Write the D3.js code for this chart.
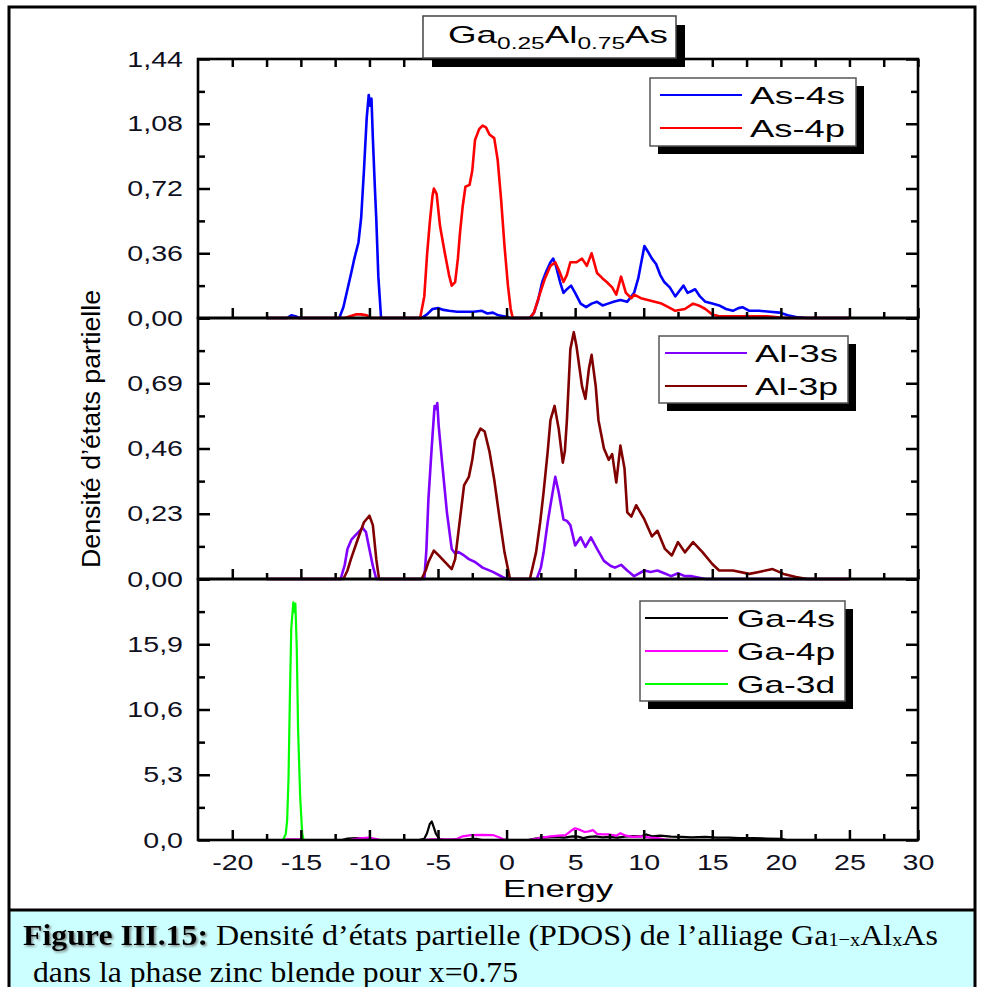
<!DOCTYPE html>
<html>
<head>
<meta charset="utf-8">
<script src="https://cdn.jsdelivr.net/npm/d3@7"></script>
<style>
  body { margin: 0; background: #fff; }
  svg { display: block; }
</style>
</head>
<body>
<svg id="chart" width="982" height="987"></svg>
<script>
// ---- Energy axis ----
const energyMajor = [-20, -15, -10, -5, 0, 5, 10, 15, 20, 25, 30];
const energyMinor = [-17.5, -12.5, -7.5, -2.5, 2.5, 7.5, 12.5, 17.5, 22.5, 27.5];
const energyLabels = ["-20", "-15", "-10", "-5", "0", "5", "10", "15", "20", "25", "30"];

// ---- Density axes (one per panel) ----
const asTicks = [0, 0.36, 0.72, 1.08, 1.44];
const asLabels = ["0,00", "0,36", "0,72", "1,08", "1,44"];
const alTicks = [0, 0.23, 0.46, 0.69, 0.92];
const alLabels = ["0,00", "0,23", "0,46", "0,69", ""];
const gaTicks = [0, 5.3, 10.6, 15.9, 21.2];
const gaLabels = ["0,0", "5,3", "10,6", "15,9", ""];

// ---- PDOS series: [energy (eV), density] ----
const as4s = [[-17.5,0],[-16.0,0],[-15.7,0.015],[-15.4,0.01],[-15.1,0],[-12.2,0],[-11.9,0.06],[-11.6,0.16],[-11.3,0.26],[-11.1,0.33],[-10.8,0.42],[-10.6,0.56],[-10.4,0.82],[-10.2,1.11],[-10.05,1.24],[-9.95,1.18],[-9.85,1.22],[-9.75,1.0],[-9.6,0.72],[-9.5,0.55],[-9.35,0.23],[-9.15,0],[-6.2,0],[-5.8,0.02],[-5.4,0.05],[-5.0,0.055],[-4.6,0.045],[-4.2,0.04],[-3.6,0.035],[-3.0,0.035],[-2.4,0.035],[-1.8,0.04],[-1.4,0.025],[-1.0,0.03],[-0.6,0.015],[-0.2,0.01],[0.3,0],[1.7,0],[2.0,0.03],[2.3,0.1],[2.6,0.2],[2.9,0.26],[3.2,0.31],[3.4,0.33],[3.6,0.29],[3.9,0.2],[4.15,0.14],[4.4,0.16],[4.7,0.18],[5.0,0.14],[5.4,0.08],[5.8,0.06],[6.2,0.08],[6.6,0.09],[7.0,0.07],[7.4,0.08],[7.8,0.09],[8.3,0.1],[8.8,0.09],[9.3,0.14],[9.6,0.22],[9.8,0.3],[10.05,0.40],[10.3,0.37],[10.6,0.33],[10.9,0.3],[11.2,0.24],[11.5,0.2],[11.9,0.17],[12.3,0.12],[12.6,0.15],[12.9,0.18],[13.2,0.14],[13.5,0.15],[13.75,0.16],[14.1,0.12],[14.5,0.09],[15.0,0.08],[15.5,0.07],[16.0,0.05],[16.5,0.04],[16.9,0.055],[17.2,0.06],[17.7,0.04],[18.4,0.04],[19.2,0.035],[19.9,0.03],[20.5,0.015],[21.1,0.005],[21.9,0],[25,0]];
const as4p = [[-17.5,0],[-11.8,0],[-11.4,0.01],[-11.0,0.02],[-10.6,0.02],[-10.2,0.015],[-9.9,0],[-6.3,0],[-6.0,0.12],[-5.8,0.35],[-5.6,0.53],[-5.4,0.68],[-5.3,0.72],[-5.1,0.69],[-4.85,0.51],[-4.5,0.36],[-4.2,0.24],[-4.0,0.18],[-3.75,0.2],[-3.55,0.33],[-3.4,0.47],[-3.2,0.62],[-3.0,0.73],[-2.7,0.74],[-2.5,0.82],[-2.3,0.99],[-2.0,1.05],[-1.75,1.07],[-1.5,1.06],[-1.25,1.02],[-0.9,1.0],[-0.65,0.88],[-0.4,0.66],[-0.15,0.4],[0.1,0.18],[0.3,0.05],[0.45,0],[1.7,0],[2.0,0.03],[2.45,0.14],[2.8,0.22],[3.2,0.29],[3.55,0.31],[3.85,0.26],[4.15,0.2],[4.4,0.24],[4.65,0.31],[5.1,0.31],[5.5,0.33],[5.85,0.29],[6.2,0.36],[6.6,0.25],[7.0,0.22],[7.3,0.2],[7.7,0.17],[8.0,0.13],[8.35,0.23],[8.7,0.14],[9.1,0.11],[9.3,0.13],[9.8,0.11],[10.3,0.1],[10.8,0.09],[11.3,0.08],[11.8,0.06],[12.3,0.04],[13.0,0.05],[13.6,0.08],[14.0,0.07],[14.5,0.05],[15.0,0.02],[15.5,0.01],[17,0.01],[19,0.01],[20.4,0],[25,0]];
const al3s = [[-17.5,0],[-12.1,0],[-11.8,0.05],[-11.6,0.106],[-11.3,0.14],[-11.1,0.15],[-10.8,0.165],[-10.5,0.18],[-10.25,0.165],[-10.0,0.105],[-9.75,0.046],[-9.5,0],[-6.0,0],[-5.85,0.1],[-5.7,0.28],[-5.45,0.47],[-5.25,0.61],[-5.15,0.6],[-5.05,0.62],[-4.95,0.54],[-4.7,0.41],[-4.35,0.235],[-4.0,0.106],[-3.75,0.09],[-3.5,0.095],[-3.1,0.083],[-2.75,0.07],[-2.3,0.06],[-1.75,0.04],[-1.0,0.025],[-0.3,0.007],[0,0],[2.2,0],[2.5,0.04],[2.7,0.094],[3.0,0.2],[3.2,0.26],[3.55,0.36],[3.8,0.306],[4.15,0.21],[4.4,0.205],[4.65,0.19],[5.0,0.118],[5.4,0.147],[5.75,0.113],[6.15,0.147],[6.6,0.106],[7.1,0.064],[7.6,0.046],[7.9,0.04],[8.35,0.05],[8.8,0.03],[9.3,0.01],[10.05,0.03],[10.5,0.025],[11.0,0.03],[11.5,0.02],[12.0,0.01],[12.5,0.02],[13.0,0.01],[13.5,0.01],[14.5,0],[25,0]];
const al3p = [[-17.5,0],[-11.9,0],[-11.6,0.03],[-11.35,0.07],[-10.85,0.14],[-10.4,0.2],[-10.0,0.223],[-9.75,0.19],[-9.5,0.07],[-9.3,0],[-6.2,0],[-5.9,0.03],[-5.7,0.06],[-5.3,0.1],[-4.95,0.083],[-4.5,0.06],[-4.0,0.035],[-3.75,0.07],[-3.55,0.15],[-3.4,0.21],[-3.1,0.33],[-2.75,0.36],[-2.5,0.42],[-2.3,0.49],[-1.9,0.53],[-1.6,0.52],[-1.25,0.45],[-0.9,0.35],[-0.5,0.21],[-0.15,0.094],[0.25,0],[1.7,0],[2.15,0.094],[2.45,0.2],[2.7,0.306],[3.0,0.45],[3.2,0.56],[3.5,0.61],[3.8,0.53],[4.1,0.41],[4.25,0.45],[4.4,0.56],[4.65,0.81],[4.9,0.87],[5.1,0.82],[5.5,0.68],[5.75,0.635],[6.0,0.74],[6.2,0.79],[6.5,0.68],[6.7,0.56],[7.1,0.46],[7.45,0.42],[7.7,0.44],[8.0,0.34],[8.3,0.47],[8.6,0.39],[8.8,0.235],[9.1,0.22],[9.45,0.26],[10.05,0.21],[10.6,0.15],[11.0,0.17],[11.55,0.106],[12.05,0.083],[12.5,0.13],[13.0,0.094],[13.6,0.13],[14.3,0.094],[15.0,0.053],[15.5,0.03],[16.5,0.03],[17.7,0.018],[18.4,0.025],[19.4,0.035],[20.2,0.018],[21.1,0.007],[21.9,0],[25,0]];
const ga4s = [[-17.5,0],[-12,0],[-11.6,0.12],[-11,0.15],[-10.4,0.12],[-10,0.05],[-9.6,0],[-6.4,0],[-6.0,0.1],[-5.8,0.55],[-5.6,1.3],[-5.45,1.5],[-5.3,1.0],[-5.15,0.5],[-4.9,0.1],[-4.6,0],[-3.2,0],[-2.8,0.08],[-2.2,0.1],[-1.8,0],[1.6,0],[2.0,0.1],[2.5,0.2],[3.0,0.22],[3.6,0.25],[4.2,0.2],[4.8,0.3],[5.2,0.28],[5.6,0.15],[6.0,0.25],[6.5,0.3],[7.0,0.22],[7.5,0.25],[8.1,0.2],[8.6,0.28],[9.2,0.32],[9.8,0.3],[10.2,0.45],[10.6,0.3],[11.2,0.35],[12,0.28],[12.8,0.25],[13.5,0.22],[14.5,0.25],[15.3,0.2],[16.2,0.2],[17,0.15],[18,0.15],[19,0.12],[20,0.1],[20.4,0],[25,0]];
const ga4p = [[-17.5,0],[-16.2,0],[-16,0.05],[-15,0.05],[-14.8,0],[-11.5,0],[-11,0.1],[-10.5,0.15],[-10,0.2],[-9.6,0.1],[-9.2,0],[-6,0],[-5.5,0.05],[-4,0.05],[-3.6,0.1],[-3.2,0.3],[-2.6,0.4],[-1.8,0.42],[-1.0,0.4],[-0.6,0.25],[-0.2,0.05],[0,0],[1.6,0],[2.0,0.08],[2.6,0.2],[3.2,0.3],[3.8,0.35],[4.3,0.4],[4.7,0.75],[5.0,0.95],[5.4,0.8],[5.7,0.65],[6.0,0.7],[6.3,0.8],[6.6,0.5],[7.0,0.45],[7.5,0.45],[8.0,0.35],[8.3,0.55],[8.7,0.35],[9.2,0.25],[9.8,0.3],[10.5,0.2],[11,0.15],[11.5,0.05],[12,0],[25,0]];
const ga3d = [[-17.5,0],[-16.3,0],[-16.1,0.5],[-16.0,1.6],[-15.9,5.0],[-15.8,11.6],[-15.7,17.2],[-15.55,19.3],[-15.45,18.5],[-15.4,19.2],[-15.3,15.7],[-15.2,8.9],[-15.05,3.5],[-14.9,0.5],[-14.8,0],[25,0]];

// ---- Series names / colours ----
const asNames = ["As-4s", "As-4p"];
const alNames = ["Al-3s", "Al-3p"];
const gaNames = ["Ga-4s", "Ga-4p", "Ga-3d"];
const asColors = ["#0000ff", "#ff0000"];
const alColors = ["#8000ff", "#800000"];
const gaColors = ["#000000", "#ff00ff", "#00ff00"];

const svg = d3.select("#chart");
const SANS = "'Liberation Sans', Arial, sans-serif";
const SERIF = "'Liberation Serif', 'Times New Roman', serif";
const INK = "#10101e";

// Widen glyphs horizontally by factor k (the figure uses a broad lettering)
function stretch(sel, k) {
  sel.each(function () {
    const w = this.getComputedTextLength();
    d3.select(this).attr("textLength", w * k).attr("lengthAdjust", "spacingAndGlyphs");
  });
}
function fitTo(sel, w) {
  sel.attr("textLength", w).attr("lengthAdjust", "spacingAndGlyphs");
}

// ---- Outer frame and caption box ----
svg.append("rect").attr("x", 9).attr("y", 910).attr("width", 966).attr("height", 90)
  .attr("fill", "#ccffff");
svg.append("rect").attr("x", 9).attr("y", 7).attr("width", 966).attr("height", 1000)
  .attr("fill", "none").attr("stroke", "#000").attr("stroke-width", 3);
svg.append("line").attr("x1", 9).attr("x2", 975).attr("y1", 910).attr("y2", 910)
  .attr("stroke", "#000").attr("stroke-width", 3);

// ---- Shared x scale ----
const x = d3.scaleLinear().domain([-22.5, 30]).range([198, 918]);
const xL = 198, xR = 918;

const panels = [
  { top: 59,  bottom: 318, max: 1.44, ticks: asTicks, labels: asLabels,
    series: [as4s, as4p], names: asNames, colors: asColors, width: 2.6,
    legend: { x: 650, y: 78, w: 206, h: 68, lineX: 660, lineW: 82, textX: 750, textW: 95, rowY: [95, 128] } },
  { top: 318, bottom: 579, max: 0.92, ticks: alTicks, labels: alLabels,
    series: [al3s, al3p], names: alNames, colors: alColors, width: 2.6,
    legend: { x: 659, y: 336, w: 189, h: 67, lineX: 665, lineW: 82, textX: 755, textW: 83, rowY: [353, 386] } },
  { top: 579, bottom: 840, max: 21.2, ticks: gaTicks, labels: gaLabels,
    series: [ga4s, ga4p, ga3d], names: gaNames, colors: gaColors, width: 2.2,
    legend: { x: 640, y: 601, w: 205, h: 100, lineX: 645, lineW: 83, textX: 737, textW: 98, rowY: [618, 651, 684] } }
];

panels.forEach((p, i) => {
  const y = d3.scaleLinear().domain([0, p.max]).range([p.bottom, p.top]);
  const g = svg.append("g");

  // minor y ticks halfway between the majors
  const yMinor = p.ticks.slice(0, -1).map((t, k) => (t + p.ticks[k + 1]) / 2);

  // curves
  const line = d3.line().x(d => x(d[0])).y(d => y(d[1]));
  p.series.forEach((s, k) => {
    g.append("path").datum(s).attr("d", line)
      .attr("fill", "none").attr("stroke", p.colors[k])
      .attr("stroke-width", p.width).attr("stroke-linejoin", "round");
  });

  const isLast = i === panels.length - 1;

  // bottom axis: inward ticks
  g.append("g").attr("transform", `translate(0,${p.bottom})`)
    .call(d3.axisBottom(x).tickValues(energyMajor).tickSizeInner(-10).tickSizeOuter(0).tickPadding(14)
      .tickFormat((d, k) => isLast ? energyLabels[k] : ""));
  g.append("g").attr("transform", `translate(0,${p.bottom})`)
    .call(d3.axisBottom(x).tickValues(energyMinor).tickSizeInner(-6).tickSizeOuter(0).tickFormat(""));

  // top axis ticks for the upper panel
  if (i === 0) {
    g.append("g").attr("transform", `translate(0,${p.top})`)
      .call(d3.axisTop(x).tickValues(energyMajor).tickSizeInner(-8).tickSizeOuter(0).tickFormat(""));
    g.append("g").attr("transform", `translate(0,${p.top})`)
      .call(d3.axisTop(x).tickValues(energyMinor).tickSizeInner(-8).tickSizeOuter(0).tickFormat(""));
  }

  // left axis with labels, right axis mirrored
  g.append("g").attr("transform", `translate(${xL},0)`)
    .call(d3.axisLeft(y).tickValues(p.ticks).tickSizeInner(-12).tickSizeOuter(0).tickPadding(15)
      .tickFormat((d, k) => p.labels[k]));
  g.append("g").attr("transform", `translate(${xL},0)`)
    .call(d3.axisLeft(y).tickValues(yMinor).tickSizeInner(-7).tickSizeOuter(0).tickFormat(""));
  g.append("g").attr("transform", `translate(${xR},0)`)
    .call(d3.axisRight(y).tickValues(p.ticks).tickSizeInner(-12).tickSizeOuter(0).tickFormat(""));
  g.append("g").attr("transform", `translate(${xR},0)`)
    .call(d3.axisRight(y).tickValues(yMinor).tickSizeInner(-7).tickSizeOuter(0).tickFormat(""));

  g.selectAll(".domain").remove();
  g.selectAll(".tick line").attr("stroke", "#000").attr("stroke-width", 2.5);
  g.selectAll(".tick text").attr("font-family", SANS).attr("font-size", 22).attr("fill", INK);

  // panel frame
  g.append("rect").attr("x", xL).attr("y", p.top).attr("width", xR - xL).attr("height", p.bottom - p.top)
    .attr("fill", "none").attr("stroke", "#000").attr("stroke-width", 2.6);

  // legend with drop shadow
  const L = p.legend;
  g.append("rect").attr("x", L.x + 8).attr("y", L.y + 8).attr("width", L.w).attr("height", L.h).attr("fill", "#000");
  g.append("rect").attr("x", L.x).attr("y", L.y).attr("width", L.w).attr("height", L.h)
    .attr("fill", "#fff").attr("stroke", "#555").attr("stroke-width", 1.5);
  p.names.forEach((n, k) => {
    g.append("line").attr("x1", L.lineX).attr("x2", L.lineX + L.lineW)
      .attr("y1", L.rowY[k]).attr("y2", L.rowY[k])
      .attr("stroke", p.colors[k]).attr("stroke-width", 2.2);
    g.append("text").attr("x", L.textX).attr("y", L.rowY[k] + 8.5)
      .attr("font-family", SANS).attr("font-size", 24).attr("fill", "#000")
      .text(n).call(fitTo, L.textW);
  });
});

stretch(svg.selectAll(".tick text"), 1.3);

// ---- Title box ----
svg.append("rect").attr("x", 432).attr("y", 25).attr("width", 253).attr("height", 42).attr("fill", "#000");
svg.append("rect").attr("x", 423).attr("y", 16).attr("width", 253).attr("height", 42)
  .attr("fill", "#fff").attr("stroke", "#444").attr("stroke-width", 1.5);
const title = svg.append("text").attr("x", 448).attr("y", 43)
  .attr("font-family", SANS).attr("font-size", 24).attr("fill", "#000");
title.append("tspan").text("Ga");
title.append("tspan").attr("font-size", 16).attr("dy", 6).text("0.25");
title.append("tspan").attr("dy", -6).text("Al");
title.append("tspan").attr("font-size", 16).attr("dy", 6).text("0.75");
title.append("tspan").attr("dy", -6).text("As");
fitTo(title, 220);

// ---- Axis titles ----
svg.append("text").attr("transform", "translate(100,429) rotate(-90)")
  .attr("text-anchor", "middle").attr("font-family", SANS).attr("font-size", 26).attr("fill", "#000")
  .text("Densité d’états partielle").call(fitTo, 278);
svg.append("text").attr("x", 558).attr("y", 897).attr("text-anchor", "middle")
  .attr("font-family", SANS).attr("font-size", 24).attr("fill", "#000")
  .text("Energy").call(fitTo, 110);

// ---- Caption ----
const defs = svg.append("defs");
defs.append("filter").attr("id", "soft").attr("x", "-10%").attr("y", "-30%").attr("width", "120%").attr("height", "160%")
  .append("feDropShadow").attr("dx", 1.5).attr("dy", 1.5).attr("stdDeviation", 1.2)
  .attr("flood-color", "#666").attr("flood-opacity", 0.8);

svg.append("text").attr("x", 23).attr("y", 945).attr("font-family", SERIF).attr("font-size", 30)
  .attr("font-weight", "bold").attr("fill", "#000").attr("filter", "url(#soft)")
  .text("Figure III.15:").call(fitTo, 185);
const cap = svg.append("text").attr("x", 216).attr("y", 945).attr("font-family", SERIF)
  .attr("font-size", 30).attr("fill", "#000");
cap.append("tspan").text("Densité d’états partielle (PDOS) de l’alliage Ga");
cap.append("tspan").attr("font-size", 19).attr("dy", 1).text("1−x");
cap.append("tspan").attr("dy", -1).text("Al");
cap.append("tspan").attr("font-size", 19).attr("dy", 1).text("x");
cap.append("tspan").attr("dy", -1).text("As");
fitTo(cap, 722);
svg.append("text").attr("x", 33).attr("y", 982).attr("font-family", SERIF).attr("font-size", 30)
  .attr("fill", "#000").text("dans la phase zinc blende pour x=0.75").call(fitTo, 485);
</script>
</body>
</html>
